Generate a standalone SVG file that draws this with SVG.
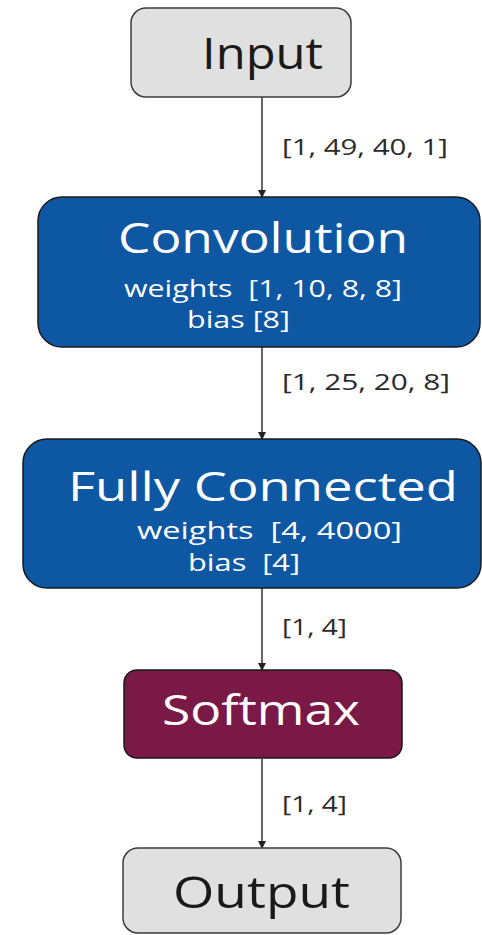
<svg xmlns="http://www.w3.org/2000/svg" width="482" height="935" viewBox="0 0 482 935">
  <style>
    text { font-family: "Open Sans", "Liberation Sans", sans-serif; white-space: pre; }
    .io { fill: #e0e0e0; stroke: #3c3c3c; stroke-width: 1.5; }
    .layer { fill: #0d57a3; stroke: #1a1a1a; stroke-width: 1.5; }
    .act { fill: #7a1846; stroke: #1a1a1a; stroke-width: 1.5; }
    .title-dark { fill: #1a1a1a; font-size: 44px; }
    .title-light { fill: #ffffff; font-size: 42px; }
    .sub { fill: #ffffff; font-size: 24px; }
    .edge { stroke: #333333; stroke-width: 1.5; fill: none; marker-end: url(#arrow); }
    .shape { fill: #2a2a2a; font-size: 22px; }
  </style>
  <defs>
    <marker id="arrow" markerWidth="8" markerHeight="8" refX="7" refY="4" orient="auto" markerUnits="userSpaceOnUse">
      <path d="M0,0 L8,4 L0,8 Z" fill="#222222"/>
    </marker>
  </defs>

  <!-- connectors and tensor shapes -->
  <g id="connectors">
    <line class="edge" x1="262" y1="97" x2="262" y2="197"/>
    <text class="shape" x="282" y="155" textLength="166" lengthAdjust="spacingAndGlyphs">[1, 49, 40, 1]</text>
    <line class="edge" x1="262" y1="347" x2="262" y2="439"/>
    <text class="shape" x="282" y="390" textLength="168" lengthAdjust="spacingAndGlyphs">[1, 25, 20, 8]</text>
    <line class="edge" x1="262" y1="588" x2="262" y2="670"/>
    <text class="shape" x="282" y="635" textLength="65" lengthAdjust="spacingAndGlyphs">[1, 4]</text>
    <line class="edge" x1="262" y1="759" x2="262" y2="848"/>
    <text class="shape" x="282" y="812" textLength="65" lengthAdjust="spacingAndGlyphs">[1, 4]</text>
  </g>

  <g id="input">
    <rect class="io" x="131" y="8" width="220" height="89" rx="15"/>
    <text class="title-dark" x="202" y="69" textLength="121" lengthAdjust="spacingAndGlyphs">Input</text>
  </g>

  <g id="convolution">
    <rect class="layer" x="38" y="197" width="442" height="150" rx="24"/>
    <text class="title-light" x="118" y="253" textLength="290" lengthAdjust="spacingAndGlyphs">Convolution</text>
    <text class="sub" x="124" y="297" textLength="278" lengthAdjust="spacingAndGlyphs">weights  [1, 10, 8, 8]</text>
    <text class="sub" x="187" y="328" textLength="103" lengthAdjust="spacingAndGlyphs">bias [8]</text>
  </g>

  <g id="fully-connected">
    <rect class="layer" x="23" y="439" width="458" height="149" rx="24"/>
    <text class="title-light" x="68" y="501" style="font-size:40px" textLength="390" lengthAdjust="spacingAndGlyphs">Fully Connected</text>
    <text class="sub" x="137" y="539" style="font-size:23px" textLength="265" lengthAdjust="spacingAndGlyphs">weights  [4, 4000]</text>
    <text class="sub" x="188" y="571" textLength="112" lengthAdjust="spacingAndGlyphs">bias  [4]</text>
  </g>

  <g id="softmax">
    <rect class="act" x="124" y="670" width="278" height="88" rx="13"/>
    <text class="title-light" x="162" y="725" textLength="198" lengthAdjust="spacingAndGlyphs">Softmax</text>
  </g>

  <g id="output">
    <rect class="io" x="123" y="848" width="278" height="85" rx="15"/>
    <text class="title-dark" x="173" y="908" textLength="177" lengthAdjust="spacingAndGlyphs">Output</text>
  </g>
</svg>
